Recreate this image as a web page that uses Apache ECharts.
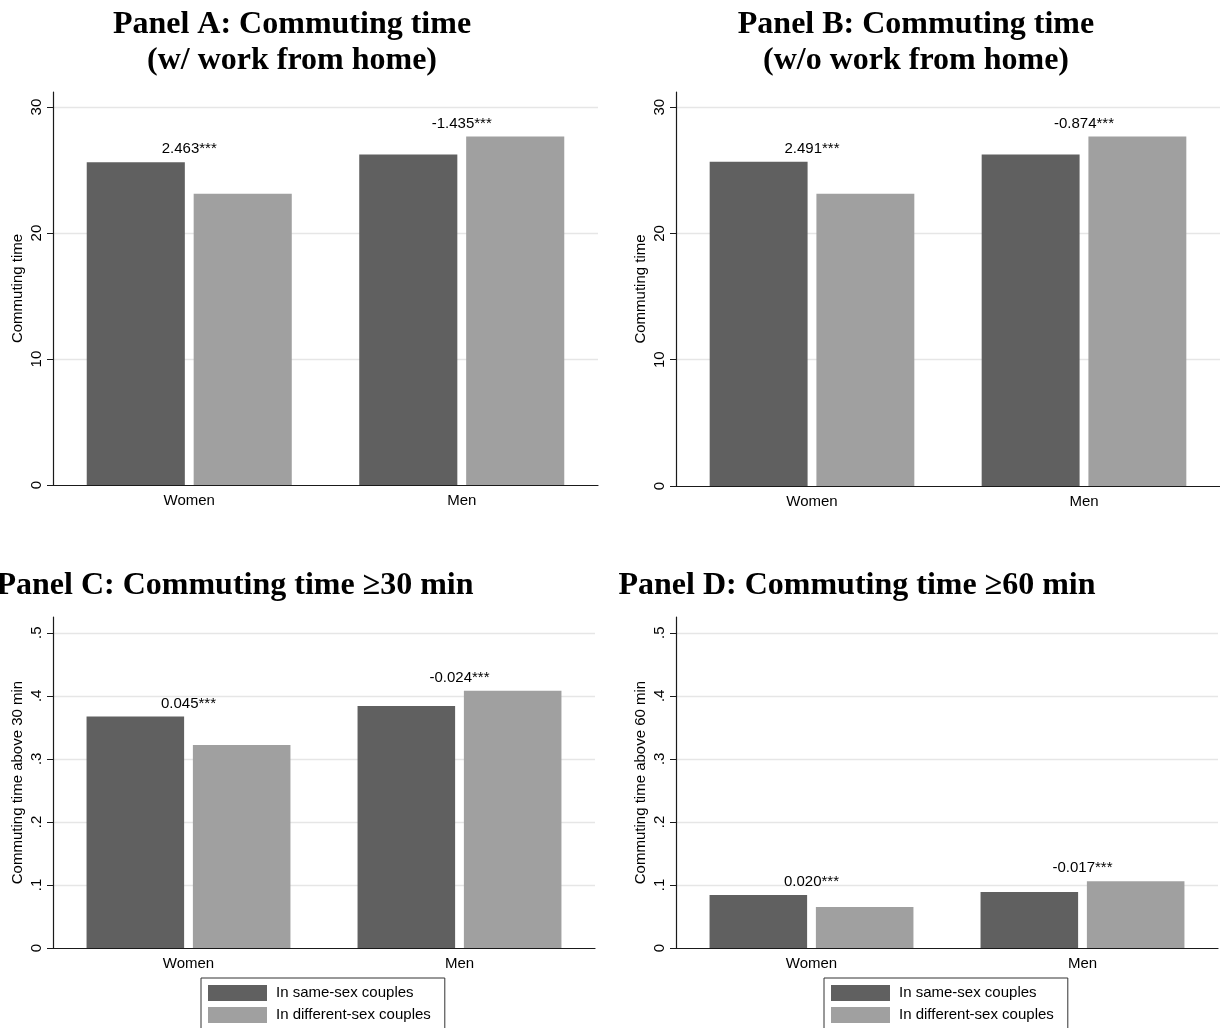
<!DOCTYPE html>
<html>
<head>
<meta charset="utf-8">
<script src="https://cdn.jsdelivr.net/npm/echarts@6/dist/echarts.min.js"></script>
<style>
html,body{margin:0;padding:0;background:#fff;}
#chart{width:1220px;height:1028px;}
</style>
</head>
<body>
<div id="chart"></div>
<script>
// ---- data ----
const categories = ['Women', 'Men'];
const seriesNames = ['In same-sex couples', 'In different-sex couples'];

const panelTitles = [
  'Panel A: Commuting time\n(w/ work from home)',
  'Panel B: Commuting time\n(w/o work from home)',
  'Panel C: Commuting time \u226530 min',
  'Panel D: Commuting time \u226560 min'
];
const yAxisNames = ['Commuting time', 'Commuting time', 'Commuting time above 30 min', 'Commuting time above 60 min'];

const panelA_same = [25.63, 26.24];
const panelA_diff = [23.12, 27.67];
const panelB_same = [25.67, 26.25];
const panelB_diff = [23.14, 27.67];
const panelC_same = [0.367, 0.384];
const panelC_diff = [0.322, 0.408];
const panelD_same = [0.084, 0.089];
const panelD_diff = [0.065, 0.106];

const panelA_notes = ['2.463***', '-1.435***'];
const panelB_notes = ['2.491***', '-0.874***'];
const panelC_notes = ['0.045***', '-0.024***'];
const panelD_notes = ['0.020***', '-0.017***'];

const timeTicks = [0, 10, 20, 30];
const shareTicks = [0, 0.1, 0.2, 0.3, 0.4, 0.5];
const shareTickLabels = ['0', '.1', '.2', '.3', '.4', '.5'];

// ---- layout / style ----
const DARK = '#606060';
const LIGHT = '#a0a0a0';
const SANS = 'Liberation Sans, Arial, sans-serif';
const SERIF = 'Liberation Serif, Times New Roman, serif';

const panels = [
  { same: panelA_same, diff: panelA_diff, notes: panelA_notes, grid: { left: 53, top: 92, width: 545, height: 393 }, max: 31.2, interval: 10, ticks: timeTicks, fmt: v => String(v) },
  { same: panelB_same, diff: panelB_diff, notes: panelB_notes, grid: { left: 676, top: 92, width: 546, height: 394 }, max: 31.2, interval: 10, ticks: timeTicks, fmt: v => String(v) },
  { same: panelC_same, diff: panelC_diff, notes: panelC_notes, grid: { left: 53, top: 617, width: 542, height: 331 }, max: 0.525, interval: 0.1, ticks: shareTicks, fmt: v => shareTickLabels[Math.round(v * 10)] || '' },
  { same: panelD_same, diff: panelD_diff, notes: panelD_notes, grid: { left: 676, top: 617, width: 542, height: 331 }, max: 0.525, interval: 0.1, ticks: shareTicks, fmt: v => shareTickLabels[Math.round(v * 10)] || '' }
];

const titlePos = [
  { left: 292, top: 7 },
  { left: 916, top: 7 },
  { left: 235, top: 568 },
  { left: 857, top: 568 }
];

const option = {
  animation: false,
  backgroundColor: '#fff',
  title: panelTitles.map((t, i) => ({
    text: t,
    left: titlePos[i].left,
    top: titlePos[i].top,
    textAlign: 'center',
    padding: 0,
    textStyle: { fontFamily: SERIF, fontWeight: 'bold', fontSize: 32, lineHeight: 36, color: '#000' }
  })),
  grid: panels.map(p => Object.assign({ containLabel: false }, p.grid)),
  xAxis: panels.map((p, i) => ({
    type: 'category',
    gridIndex: i,
    data: categories,
    boundaryGap: true,
    axisLine: { show: true, lineStyle: { color: '#1a1a1a', width: 1.2 } },
    axisTick: { show: false },
    axisLabel: { fontFamily: SANS, fontSize: 15, color: '#000', margin: 8 },
    splitLine: { show: false }
  })),
  yAxis: panels.map((p, i) => ({
    type: 'value',
    gridIndex: i,
    min: 0,
    max: p.max,
    interval: p.interval,
    name: yAxisNames[i],
    nameLocation: 'middle',
    nameGap: 28,
    nameTextStyle: { fontFamily: SANS, fontSize: 15, color: '#000' },
    axisLine: { show: true, lineStyle: { color: '#1a1a1a', width: 1.2 } },
    axisTick: { show: true, length: 6, lineStyle: { color: '#1a1a1a' }, customValues: p.ticks },
    axisLabel: { rotate: 90, fontFamily: SANS, fontSize: 15, color: '#000', margin: 9, formatter: p.fmt, customValues: p.ticks },
    splitLine: { show: true, showMinLine: false, lineStyle: { color: '#e6e6e6', width: 1.3 } }
  })),
  legend: [
    { left: 201, top: 978 },
    { left: 824, top: 978 }
  ].map(pos => ({
    data: seriesNames,
    left: pos.left,
    top: pos.top,
    height: 40,
    orient: 'vertical',
    icon: 'rect',
    itemWidth: 59,
    itemHeight: 16,
    itemGap: 6,
    padding: [7, 14, 6, 7],
    borderColor: '#333',
    borderWidth: 1,
    backgroundColor: '#fff',
    selectedMode: false,
    textStyle: { fontFamily: SANS, fontSize: 15, color: '#000', padding: [0, 0, 0, 4] }
  })),
  series: []
};

panels.forEach((p, i) => {
  option.series.push({
    name: seriesNames[0], type: 'bar', xAxisIndex: i, yAxisIndex: i,
    data: p.same, barWidth: '36%', barGap: '9%',
    itemStyle: { color: DARK }
  });
  option.series.push({
    name: seriesNames[1], type: 'bar', xAxisIndex: i, yAxisIndex: i,
    data: p.diff, barWidth: '36%', barGap: '9%',
    itemStyle: { color: LIGHT }
  });
  option.series.push({
    name: 'note' + i, type: 'scatter', xAxisIndex: i, yAxisIndex: i,
    data: p.same.map((v, k) => Math.max(v, p.diff[k])),
    symbol: 'circle', symbolSize: 1, itemStyle: { color: 'rgba(0,0,0,0)' },
    silent: true, z: 5,
    label: {
      show: true, position: 'top', distance: 5,
      fontFamily: SANS, fontSize: 15, color: '#000', opacity: 1,
      formatter: params => p.notes[params.dataIndex]
    }
  });
});

const chart = echarts.init(document.getElementById('chart'), null, { renderer: 'canvas' });
chart.setOption(option);
</script>
</body>
</html>
